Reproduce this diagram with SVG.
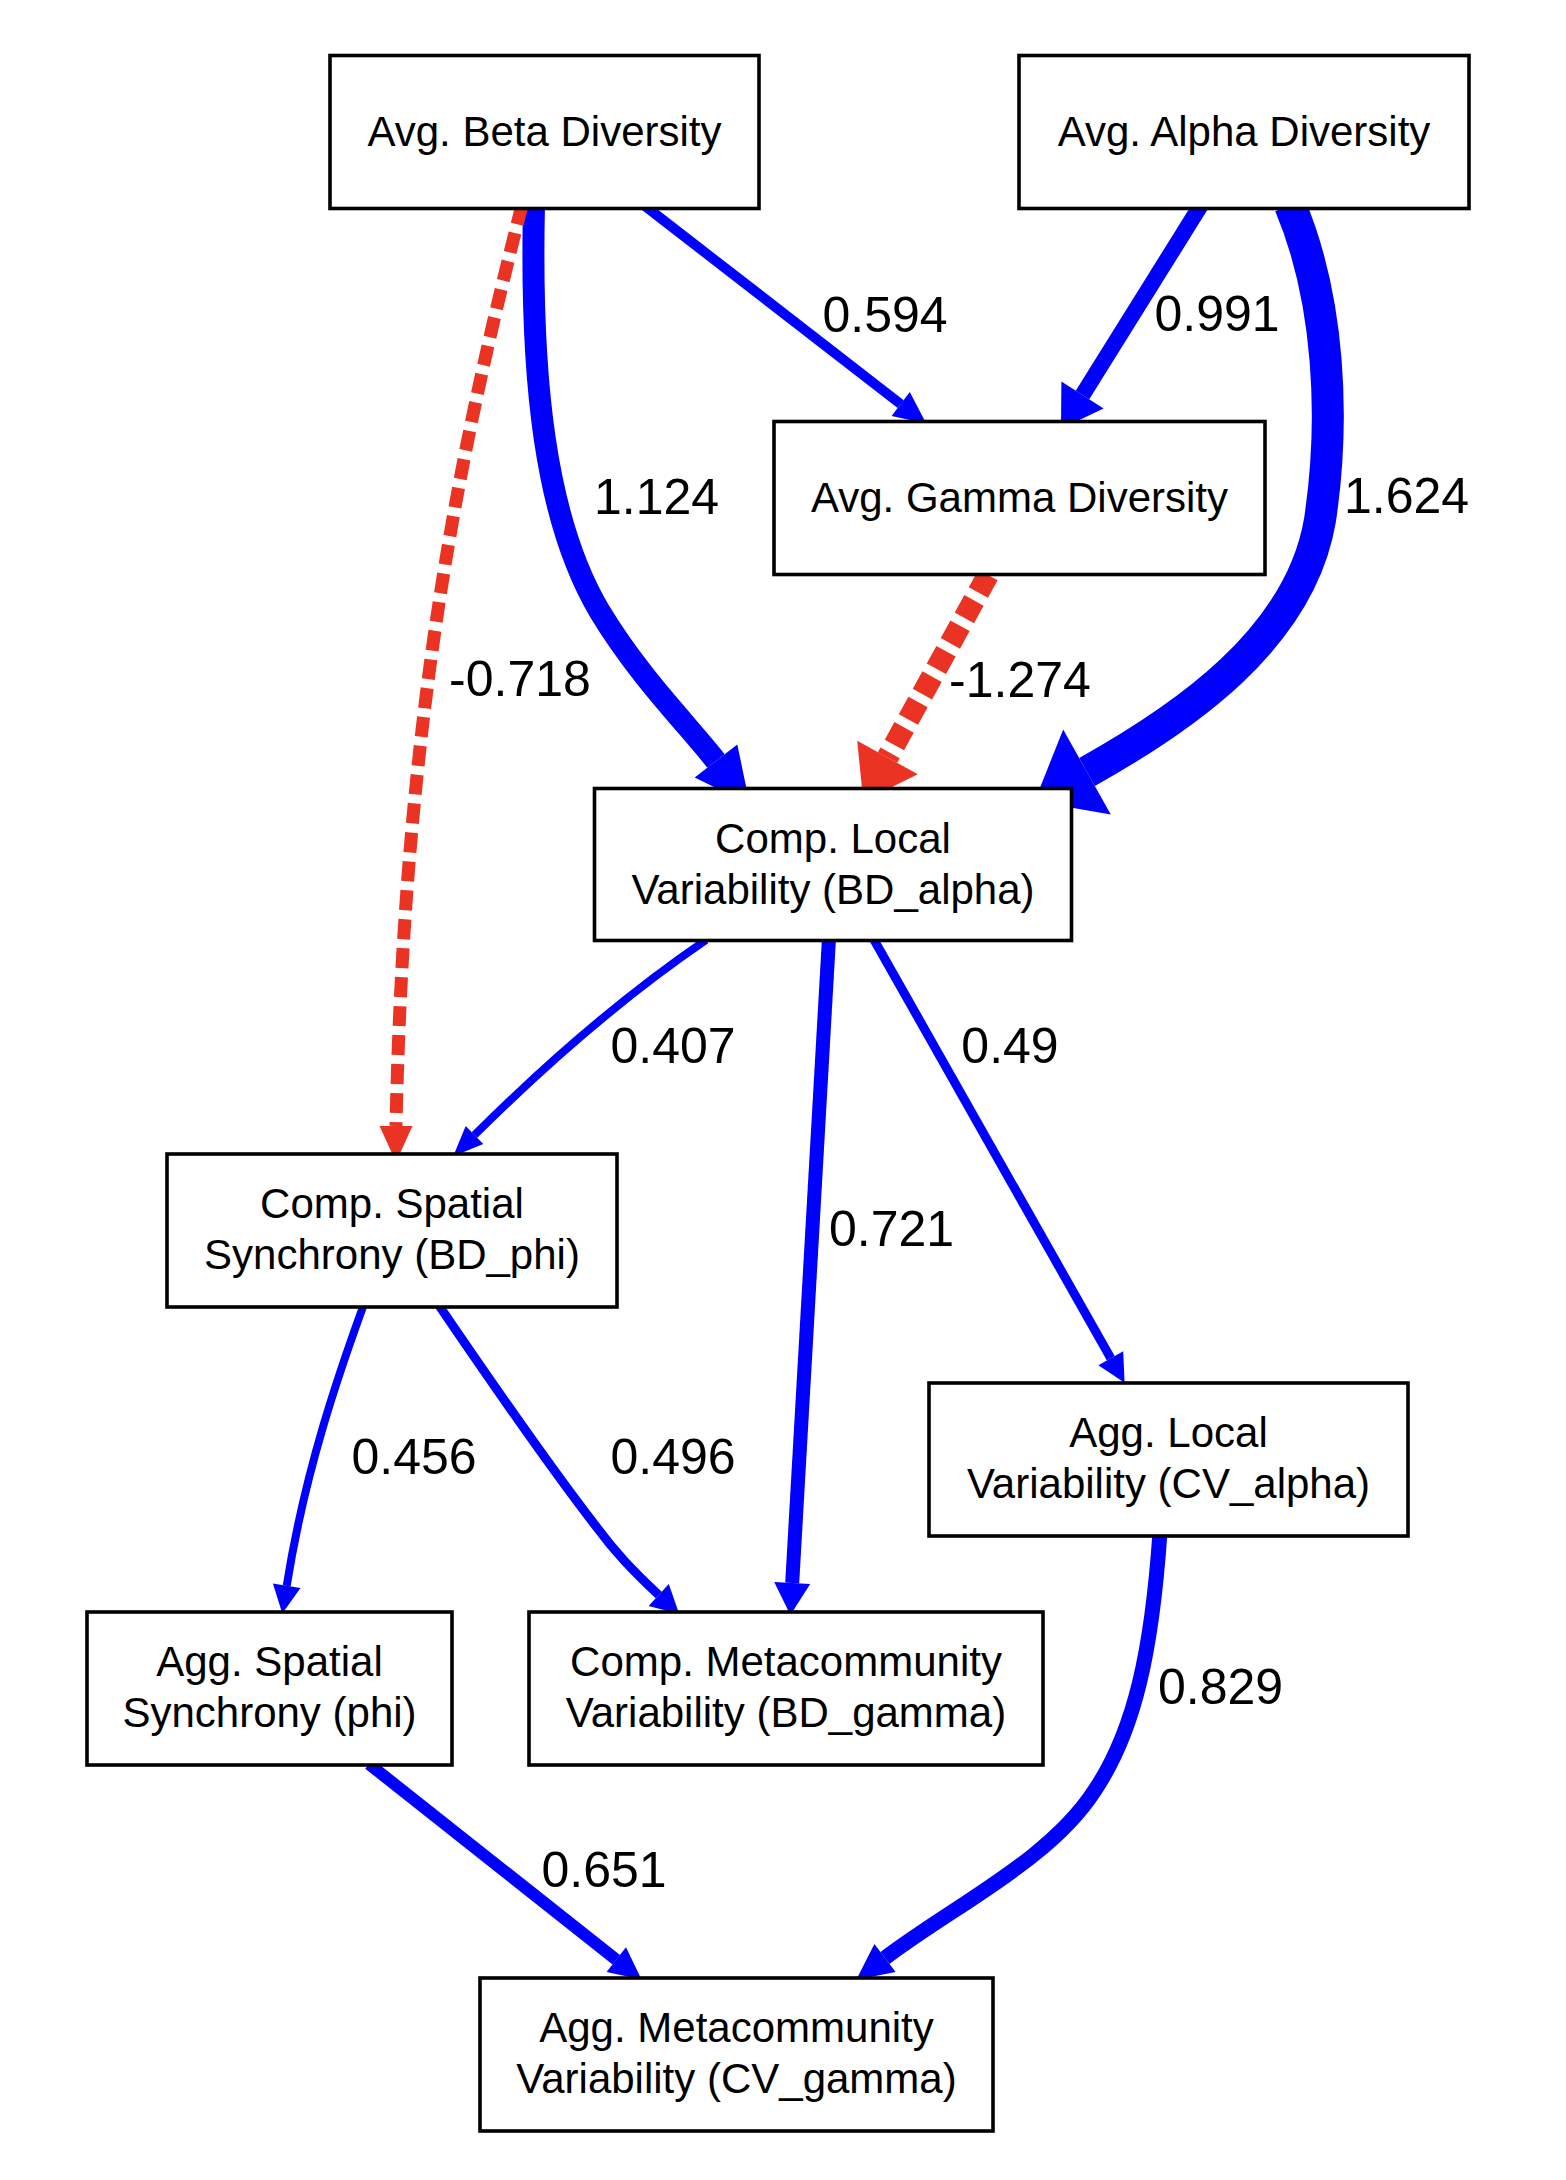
<svg xmlns="http://www.w3.org/2000/svg" width="1566" height="2180" viewBox="0 0 1566 2180">
<style>
.node rect{fill:#fff;stroke:#000;stroke-width:3.6}
.node text{font-family:"Liberation Sans",Arial,sans-serif;font-size:42px;fill:#000;text-anchor:middle}
.e{fill:none;stroke-linecap:butt}
.pos{stroke:#0000FF}
.neg{stroke:#EA3323;stroke-dasharray:20,9}
.hp{fill:#0000FF}
.hn{fill:#EA3323}
.lbl{font-family:"Liberation Sans",Arial,sans-serif;font-size:50px;fill:#000;text-anchor:middle}
</style>
<rect width="1566" height="2180" fill="#fff"/>
<g id="connectors">
  <!-- Beta -> Gamma 0.594 -->
  <path class="e pos" stroke-width="10" d="M645,206 L900.7,404.1"/>
  <polygon class="hp" points="891.6,416.1 909.8,392.1 926.2,423.4"/>
  <!-- Alpha -> Gamma 0.991 -->
  <path class="e pos" stroke-width="16" d="M1201,205 L1082.5,395"/>
  <polygon class="hp" points="1103.6,408.4 1061.4,381.6 1061,428.7"/>
  <!-- Beta -> Comp Local 1.124 -->
  <path class="e pos" stroke-width="22" d="M534,205 C530,380 545,520 600,612 C640,678 688,725 716,761"/>
  <polygon class="hp" points="737.3,744.4 694.7,777.6 749.8,804.4"/>
  <!-- Alpha -> Comp Local 1.624 -->
  <path class="e pos" stroke-width="32" d="M1290,205 C1330,300 1335,420 1320,520 C1300,640 1180,720 1087,772"/>
  <polygon class="hp" points="1110.8,814.5 1063.2,729.5 1034.6,801.3"/>
  <!-- Gamma -> Comp Local -1.274 -->
  <path class="e neg" stroke-width="22" d="M988,575 L887.5,757.5"/>
  <polygon class="hn" points="917.8,774.2 857.2,740.8 863.3,801.3"/>
  <!-- Beta -> Comp Spatial -0.718 -->
  <path class="e neg" stroke-width="13" d="M522,205 C465,430 405,700 396,1126"/>
  <polygon class="hn" points="379.5,1126 412.5,1126 396,1162"/>
  <!-- Comp Local -> Comp Spatial 0.407 -->
  <path class="e pos" stroke-width="8" d="M706,940 C640,985 560,1050 474.5,1135"/>
  <polygon class="hp" points="483.3,1143.9 465.7,1126.1 453.2,1156.2"/>
  <!-- Comp Local -> Comp Meta 0.721 -->
  <path class="e pos" stroke-width="14" d="M829,938 L792.2,1583"/>
  <polygon class="hp" points="810.2,1584 774.2,1582 790.4,1615"/>
  <!-- Comp Local -> Agg Local 0.49 -->
  <path class="e pos" stroke-width="9" d="M873,938 L1110.8,1358.3"/>
  <polygon class="hp" points="1098.4,1365.3 1123.2,1351.3 1124.6,1382.7"/>
  <!-- Comp Spatial -> Agg Spatial 0.456 -->
  <path class="e pos" stroke-width="8" d="M364,1304 C340,1370 305,1470 286.7,1585.8"/>
  <polygon class="hp" points="300.5,1588 272.9,1583.6 282.3,1613.5"/>
  <!-- Comp Spatial -> Comp Meta 0.496 -->
  <path class="e pos" stroke-width="9" d="M438,1304 C500,1395 560,1480 595,1525 C615,1552 632,1570 658.7,1595"/>
  <polygon class="hp" points="648.6,1605.9 668.8,1584.1 679.2,1614"/>
  <!-- Agg Local -> Agg Meta 0.829 -->
  <path class="e pos" stroke-width="15" d="M1160,1532 C1152,1650 1135,1730 1095,1790 C1050,1860 955,1905 885,1958"/>
  <polygon class="hp" points="895.6,1972 874.4,1944 856.3,1979.7"/>
  <!-- Agg Spatial -> Agg Meta 0.651 -->
  <path class="e pos" stroke-width="12" d="M369,1764 L616.3,1959.7"/>
  <polygon class="hp" points="606.6,1972.1 626,1947.2 641.5,1979.4"/>
  <g id="edge-labels">
    <text class="lbl" x="885" y="332">0.594</text>
    <text class="lbl" x="1217" y="331">0.991</text>
    <text class="lbl" x="656.5" y="514">1.124</text>
    <text class="lbl" x="1406.5" y="513">1.624</text>
    <text class="lbl" x="520" y="696">-0.718</text>
    <text class="lbl" x="1020" y="697">-1.274</text>
    <text class="lbl" x="673" y="1063">0.407</text>
    <text class="lbl" x="1010" y="1063">0.49</text>
    <text class="lbl" x="891.5" y="1246">0.721</text>
    <text class="lbl" x="414" y="1474">0.456</text>
    <text class="lbl" x="673" y="1474">0.496</text>
    <text class="lbl" x="1220.5" y="1704">0.829</text>
    <text class="lbl" x="604" y="1887">0.651</text>
  </g>
</g>
<g id="node-beta" class="node">
  <rect x="330" y="55.5" width="429" height="153"/>
  <text x="544.5" y="145.5">Avg. Beta Diversity</text>
</g>
<g id="node-alpha" class="node">
  <rect x="1019" y="55.5" width="450" height="153"/>
  <text x="1244" y="145.5">Avg. Alpha Diversity</text>
</g>
<g id="node-gamma" class="node">
  <rect x="774" y="421.5" width="491" height="153"/>
  <text x="1019.5" y="511.5">Avg. Gamma Diversity</text>
</g>
<g id="node-comp-local" class="node">
  <rect x="594.5" y="788.5" width="477" height="152"/>
  <text x="833" y="852.5">Comp. Local</text>
  <text x="833" y="903.5">Variability (BD_alpha)</text>
</g>
<g id="node-comp-spatial" class="node">
  <rect x="167" y="1154" width="450" height="153"/>
  <text x="392" y="1218">Comp. Spatial</text>
  <text x="392" y="1269">Synchrony (BD_phi)</text>
</g>
<g id="node-agg-local" class="node">
  <rect x="929" y="1383" width="479" height="153"/>
  <text x="1168.5" y="1447">Agg. Local</text>
  <text x="1168.5" y="1498">Variability (CV_alpha)</text>
</g>
<g id="node-agg-spatial" class="node">
  <rect x="87" y="1612" width="365" height="153"/>
  <text x="269.5" y="1676">Agg. Spatial</text>
  <text x="269.5" y="1727">Synchrony (phi)</text>
</g>
<g id="node-comp-meta" class="node">
  <rect x="529" y="1612" width="514" height="153"/>
  <text x="786" y="1676">Comp. Metacommunity</text>
  <text x="786" y="1727">Variability (BD_gamma)</text>
</g>
<g id="node-agg-meta" class="node">
  <rect x="480" y="1978" width="513" height="153"/>
  <text x="736.5" y="2042">Agg. Metacommunity</text>
  <text x="736.5" y="2093">Variability (CV_gamma)</text>
</g>
</svg>
